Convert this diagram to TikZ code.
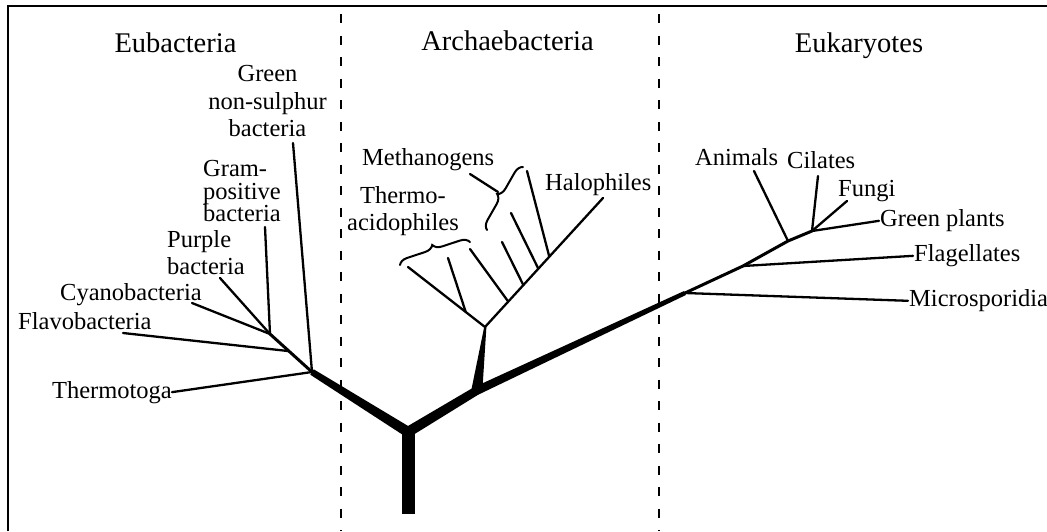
\documentclass[tikz,border=0pt]{standalone}
\usepackage{fontspec}
\setmainfont{Liberation Serif}
\usetikzlibrary{calc,decorations.pathreplacing}
\begin{document}
\begin{tikzpicture}[x=1pt,y=-1pt,
  lbl/.style={inner sep=0pt, font=\fontsize{24.5}{26.5}\selectfont},
  head/.style={inner sep=0pt, font=\fontsize{28.5}{30}\selectfont, anchor=base},
  leaf/.style={line width=2.3pt, line cap=round, line join=round},
  stem/.style={line width=3pt, line cap=round, line join=round},
  divider/.style={line width=1.6pt, dash pattern=on 9pt off 12.5pt},
  frame/.style={line width=2pt},
  bracepath/.style={line width=2pt, line cap=round, decorate, decoration={brace, amplitude=9pt}}
]
\useasboundingbox (0,0) rectangle (1047,531);
% frame and dividers
\draw[frame] (8,531) -- (8,6) -- (1047,6);
\coordinate (d1t) at (341,14); \coordinate (d1b) at (341,531);
\coordinate (d2t) at (659,14); \coordinate (d2b) at (659,531);
\draw[divider] (d1t) -- (d1b);
\draw[divider] (d2t) -- (d2b);
% headings
\node[head] (heub) at (175.5,52) {Eubacteria};
\node[head] (harc) at (507.5,50) {Archaebacteria};
\node[head] (heuk) at (859,52) {Eukaryotes};
% main skeleton
\coordinate (root) at (408,514);
\coordinate (J) at (408,432);
\coordinate (EB) at (312,372);
\coordinate (AB) at (476,391);
\coordinate (AN) at (485,327);
\coordinate (EK) at (685,293);
% trunk and thick branches
\fill (401.5,514) rectangle (414.5,430);
\fill ($(J)!5.2pt!90:(EB)$) -- ($(EB)!3.2pt!-90:(J)$) -- ($(EB)!3.2pt!90:(J)$) -- ($(J)!5.2pt!-90:(EB)$) -- cycle;
\fill ($(J)!5.2pt!90:(AB)$) -- ($(AB)!4.3pt!-90:(J)$) -- ($(AB)!4.3pt!90:(J)$) -- ($(J)!5.2pt!-90:(AB)$) -- cycle;
\fill (AB) circle (4.3pt);
\fill ($(AB)!4.3pt!90:(EK)$) -- ($(EK)!2.2pt!-90:(AB)$) -- ($(EK)!2.2pt!90:(AB)$) -- ($(AB)!4.3pt!-90:(EK)$) -- cycle;
\fill (J) circle (5pt);
% archaea wedge
\fill (470.5,394) -- (484.2,327) -- (486.4,327) -- (482.5,388) -- cycle;

% ---------- Eubacteria ----------
\node[lbl, anchor=base east] (th) at (172,398) {Thermotoga};
\node[lbl, anchor=base west] (fv) at (18,329) {Flavobacteria};
\node[lbl, anchor=base west] (cy) at (60,300) {Cyanobacteria};
\node[lbl, anchor=north west, align=left] (pu) at (167,230.3) {Purple\\bacteria};
\node[lbl, anchor=north west, align=left, font=\fontsize{24.5}{22.5}\selectfont] (gp+) at (203,160.5) {Gram-\\positive\\bacteria};
\node[lbl, anchor=north, align=center, font=\fontsize{24.5}{27.5}\selectfont] (gns) at (267.5,65.3) {Green\\non-sulphur\\bacteria};
\coordinate (CYj) at (270,334);
\coordinate (FVj) at ($(EB)!0.55!(CYj)$);
\coordinate (gnsE) at (293,143);
\coordinate (grE) at (265,227);
\coordinate (puE) at (220,278);
\coordinate (cyE) at (192,303);
\coordinate (fvE) at (123,333);
\draw[stem] (EB) -- (CYj);
\draw[leaf] (EB) -- (th.east);
\draw[leaf] (EB) -- (gnsE);
\draw[leaf] (FVj) -- (fvE);
\draw[leaf] (CYj) -- (cyE);
\draw[leaf] (CYj) -- (grE);
\draw[leaf] (CYj) -- (puE);

% ---------- Archaebacteria ----------
\node[lbl, anchor=base west] (meth) at (362,165) {Methanogens};
\node[lbl, anchor=north, align=center] (thac) at (403,186.5) {Thermo-\\acidophiles};
\node[lbl, anchor=base west] (halo) at (545,190) {Halophiles};
\coordinate (AL) at (408,267);
\coordinate (AR) at (603,198);
\draw[leaf] (AL) -- (AN) -- (AR);
\coordinate (a0) at ($(AN)!0.25!(AL)$);
\coordinate (a1) at ($(AN)!0.197!(AR)$);
\coordinate (a2) at ($(AN)!0.325!(AR)$);
\coordinate (a3) at ($(AN)!0.452!(AR)$);
\coordinate (a4) at ($(AN)!0.545!(AR)$);
\coordinate (a0E) at (448,258);
\coordinate (a1E) at (470,249);
\coordinate (a2E) at (502,242);
\coordinate (a3E) at (511,213);
\coordinate (a4E) at (527,171);
\draw[leaf] (a0) -- (a0E);
\draw[leaf] (a1) -- (a1E);
\draw[leaf] (a2) -- (a2E);
\draw[leaf] (a3) -- (a3E);
\draw[leaf] (a4) -- (a4E);
% braces
\coordinate (tb1) at (400,265); \coordinate (tb2) at (470,242);
\coordinate (mb1) at (487,230); \coordinate (mb2) at (523,167);
\draw[bracepath] (tb1) -- (tb2);
\draw[bracepath] (mb1) -- (mb2);
\coordinate (mptr) at (470,174);
\coordinate (mcusp) at (498,192);
\draw[leaf] (mptr) -- (mcusp);

% ---------- Eukaryotes ----------
\node[lbl, anchor=base west] (anim) at (695,165) {Animals};
\node[lbl, anchor=base west] (cil) at (787,168.5) {Cilates};
\node[lbl, anchor=base west] (fun) at (838,196.7) {Fungi};
\node[lbl, anchor=base west, inner sep=1pt] (gpl) at (879,226.7) {Green plants};
\node[lbl, anchor=base west, inner sep=1pt] (fla) at (913,261.7) {Flagellates};
\node[lbl, anchor=base west, inner sep=1pt] (mic) at (908,306.7) {Microsporidia};
\coordinate (FLj) at (743,266);
\coordinate (ANj) at (788,241);
\coordinate (CFj) at (812,231);
\coordinate (animE) at (754,171);
\coordinate (cilE) at (818,176);
\coordinate (funE) at (847,201);
\draw[stem] (EK) -- (FLj) -- (ANj) -- (CFj);
\draw[leaf] (EK) -- (mic.west);
\draw[leaf] (FLj) -- (fla.west);
\draw[leaf] (ANj) -- (animE);
\draw[leaf] (CFj) -- (cilE);
\draw[leaf] (CFj) -- (funE);
\draw[leaf] (CFj) -- (gpl.west);
\end{tikzpicture}
\end{document}
